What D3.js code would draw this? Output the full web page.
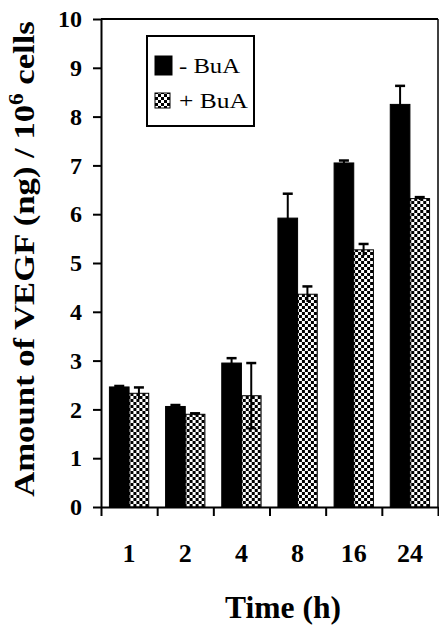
<!DOCTYPE html>
<meta charset="utf-8">
<style>
body { margin:0; background:#fff; }
</style>
<svg width="439" height="625"></svg>
<script src="https://d3js.org/d3.v7.min.js"></script>
<script>

var times = ["1", "2", "4", "8", "16", "24"];
var minusBuA = [2.46, 2.06, 2.95, 5.92, 7.05, 8.25];
var minusErr = [0.02, 0.03, 0.10, 0.50, 0.05, 0.38];
var plusBuA = [2.33, 1.90, 2.28, 4.36, 5.27, 6.32];
var plusErr = [0.12, 0.02, 0.67, 0.16, 0.12, 0.03];
var series = ["- BuA", "+ BuA"];
var yTicks = [0, 1, 2, 3, 4, 5, 6, 7, 8, 9, 10];

var svg = d3.select("svg");
var pLeft = 101, pRight = 438, pTop = 19, pBottom = 507;
var serif = "Liberation Serif";

// stretch a text along its length to a target width
function fitWidth(sel, w) {
  var len = sel.node().getComputedTextLength();
  return len ? w / len : 1;
}

// checker fill for the +BuA bars
var defs = svg.append("defs");
var pat = defs.append("pattern")
    .attr("id", "checker")
    .attr("patternUnits", "userSpaceOnUse")
    .attr("width", 6).attr("height", 6);
pat.append("rect").attr("width", 6).attr("height", 6).attr("fill", "#fff");
pat.append("rect").attr("width", 3).attr("height", 3).attr("fill", "#000");
pat.append("rect").attr("x", 3).attr("y", 3).attr("width", 3).attr("height", 3).attr("fill", "#000");

var x = d3.scaleBand().domain(times).range([pLeft, pRight]).paddingInner(0.3).paddingOuter(0.15);
var xs = d3.scaleBand().domain(series).range([0, x.bandwidth()]);
var y = d3.scaleLinear().domain([0, 10]).range([pBottom, pTop]);

var rows = times.map(function(t, i) {
  return [
    {t: t, s: series[0], v: minusBuA[i], e: minusErr[i]},
    {t: t, s: series[1], v: plusBuA[i], e: plusErr[i]}
  ];
});

var g = svg.append("g").selectAll("g")
  .data(rows)
  .enter().append("g")
  .attr("transform", function(d) { return "translate(" + x(d[0].t) + ",0)"; });

var bar = g.selectAll("g").data(function(d) { return d; }).enter().append("g");

function mid(d) { return xs(d.s) + xs.bandwidth() / 2; }

bar.append("rect")
  .attr("x", function(d) { return xs(d.s); })
  .attr("width", xs.bandwidth())
  .attr("y", function(d) { return y(d.v); })
  .attr("height", function(d) { return y(0) - y(d.v); })
  .attr("fill", function(d) { return d.s == series[0] ? "#000" : "url(#checker)"; })
  .attr("stroke", "#000").attr("stroke-width", 1);

// error bars
bar.append("line")
  .attr("x1", mid).attr("x2", mid)
  .attr("y1", function(d) { return y(d.v + d.e); })
  .attr("y2", function(d) { return y(d.v - d.e); })
  .attr("stroke", "#000").attr("stroke-width", 2);

bar.append("line")
  .attr("x1", function(d) { return mid(d) - 5; })
  .attr("x2", function(d) { return mid(d) + 5; })
  .attr("y1", function(d) { return y(d.v + d.e); })
  .attr("y2", function(d) { return y(d.v + d.e); })
  .attr("stroke", "#000").attr("stroke-width", 2.5);

bar.filter(function(d) { return d.s == series[1] && d.e > 0.3; }).append("line")
  .attr("x1", function(d) { return mid(d) - 5; })
  .attr("x2", function(d) { return mid(d) + 5; })
  .attr("y1", function(d) { return y(d.v - d.e); })
  .attr("y2", function(d) { return y(d.v - d.e); })
  .attr("stroke", "#000").attr("stroke-width", 2);

// frame
svg.append("line").attr("x1", pLeft).attr("x2", pRight).attr("y1", pTop).attr("y2", pTop)
  .attr("stroke", "#000").attr("stroke-width", 2);
svg.append("line").attr("x1", pRight).attr("x2", pRight).attr("y1", pTop).attr("y2", pBottom)
  .attr("stroke", "#000").attr("stroke-width", 1.5);

// y axis
var yAxis = svg.append("g")
  .attr("transform", "translate(" + pLeft + ",0)")
  .call(d3.axisLeft(y).tickValues(yTicks).tickSize(8).tickPadding(11).tickSizeOuter(0));
yAxis.attr("font-family", serif).attr("font-size", 24).attr("font-weight", "bold");
yAxis.select(".domain").attr("stroke-width", 2);
yAxis.selectAll(".tick line").attr("stroke-width", 2);

// x axis: ticks on band boundaries
var xb = d3.scaleLinear().domain([0, times.length]).range([pLeft, pRight]);
var xAxis = svg.append("g")
  .attr("transform", "translate(0," + pBottom + ")")
  .call(d3.axisBottom(xb).ticks(times.length).tickSize(9).tickFormat("").tickSizeOuter(0));
xAxis.select(".domain").attr("stroke-width", 2);
xAxis.selectAll(".tick line").attr("stroke-width", 2);

svg.append("g").selectAll("text")
  .data(times).enter().append("text")
  .attr("x", function(d) { return x(d) + x.bandwidth() / 2; })
  .attr("y", 562)
  .attr("text-anchor", "middle")
  .attr("font-family", serif)
  .attr("font-size", 26).attr("font-weight", "bold")
  .text(function(d) { return d; });

var xl = svg.append("text")
  .attr("text-anchor", "middle")
  .attr("font-family", serif)
  .attr("font-size", 32).attr("font-weight", "bold")
  .text("Time (h)");
xl.attr("transform", "translate(283,618) scale(" + fitWidth(xl, 116) + ",1)");

var yl = svg.append("text")
  .attr("text-anchor", "middle")
  .attr("font-family", serif)
  .attr("font-size", 30).attr("font-weight", "bold");
yl.append("tspan").text("Amount of VEGF (ng) / 10");
yl.append("tspan").attr("dy", -11).attr("font-size", 20).text("6");
yl.append("tspan").attr("dy", 11).text(" cells");
yl.attr("transform", "translate(34,259) rotate(-90) scale(" + fitWidth(yl, 476) + ",1)");

// legend
var lg = svg.append("g");
lg.append("rect").attr("x", 147).attr("y", 36).attr("width", 107).attr("height", 90)
  .attr("fill", "#fff").attr("stroke", "#000").attr("stroke-width", 2);
var item = lg.selectAll("g.item").data(series).enter().append("g")
  .attr("transform", function(d, i) { return "translate(155," + (56 + i * 35) + ")"; });
item.append("rect")
  .attr("width", function(d, i) { return i ? 15 : 17; })
  .attr("height", function(d, i) { return i ? 15 : 19; })
  .attr("y", function(d, i) { return i ? 2 : 0; })
  .attr("fill", function(d, i) { return i ? "url(#checker)" : "#000"; })
  .attr("stroke", "#000").attr("stroke-width", 1);
item.append("text")
  .attr("font-family", serif)
  .attr("font-size", 22)
  .text(function(d) { return d; })
  .each(function(d, i) {
    var t = d3.select(this);
    t.attr("transform", "translate(24,17) scale(" + fitWidth(t, i ? 69 : 61) + ",1)");
  });

</script>
